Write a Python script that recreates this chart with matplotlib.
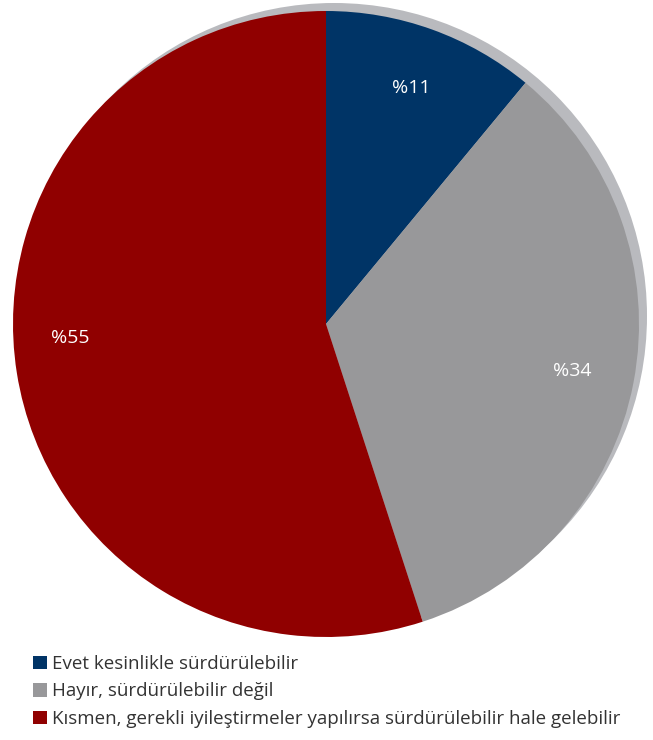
import matplotlib
matplotlib.use("Agg")
import matplotlib.pyplot as plt
from matplotlib.patches import Circle, Patch

plt.rcParams['font.family'] = ['Open Sans', 'DejaVu Sans']

labels = ["Evet kesinlikle sürdürülebilir",
          "Hayır, sürdürülebilir değil",
          "Kısmen, gerekli iyileştirmeler yapılırsa sürdürülebilir hale gelebilir"]
values = [11, 34, 55]
colors = ["#003466", "#98989a", "#900000"]
shadow_color = "#b9babe"

W, H = 653, 740
fig = plt.figure(figsize=(W / 100, H / 100), dpi=100)
ax = fig.add_axes([0, 0, 1, 1])

cx, cy, r = 326, H - 324, 313

# flat offset "shadow" behind the pie
ax.add_patch(Circle((cx + 8, cy + 8), r, color=shadow_color, lw=0, zorder=0))

wedges, _, autotexts = ax.pie(values, colors=colors, startangle=90, counterclock=False,
                              center=(cx, cy), radius=r,
                              autopct=lambda p: "%{:.0f}".format(p), pctdistance=0.8,
                              wedgeprops=dict(linewidth=0),
                              textprops=dict(color="white", fontsize=14))
for w in wedges:
    w.set_zorder(1)
for t in autotexts:
    t.set_zorder(2)
# the big slice label sits a bit higher in the original
autotexts[2].set_position((70, H - 338))

ax.set_xlim(0, W)
ax.set_ylim(0, H)
ax.set_aspect("equal")
ax.axis("off")

handles = [Patch(facecolor=c, edgecolor="none") for c in colors]
fig.legend(handles, labels, loc="upper left", bbox_to_anchor=(33 / W, 1 - 655 / H),
           frameon=False, fontsize=13.5, handlelength=0.72, handleheight=0.72,
           handletextpad=0.28, labelspacing=0.5, borderaxespad=0, borderpad=0,
           labelcolor="#333333")

fig.savefig("out.png", dpi=100)
